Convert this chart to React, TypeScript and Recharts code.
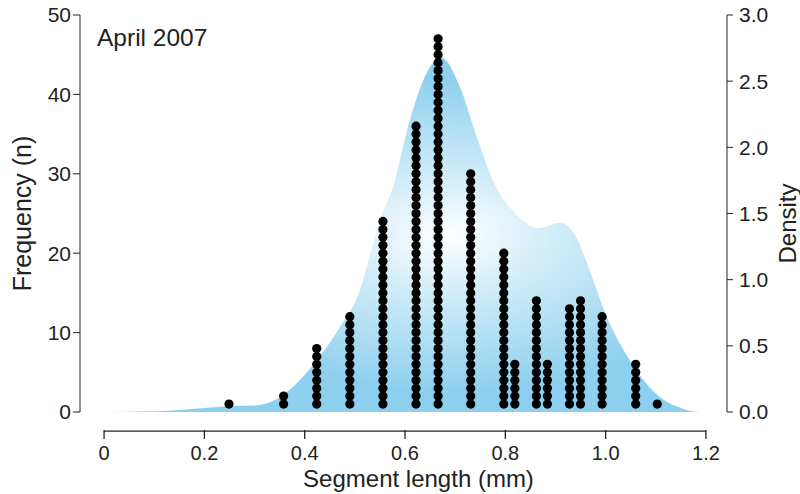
import React from 'react';
import { ComposedChart, Area, Scatter, XAxis, YAxis, ReferenceLine, Label } from 'recharts';

// segment length classes (mm) and how many segments fell in each
const lengths = [0.249, 0.358, 0.424, 0.49, 0.556, 0.622, 0.666, 0.731, 0.797, 0.819, 0.862, 0.884, 0.928, 0.95, 0.993, 1.06, 1.103];
const counts = [1, 2, 8, 12, 24, 36, 47, 30, 20, 6, 14, 6, 13, 14, 12, 6, 1];

// kernel density estimate
const densityX = [-0.048, 0, 0.1, 0.15, 0.2, 0.25, 0.3, 0.35, 0.39, 0.43, 0.47, 0.51, 0.53, 0.55, 0.576, 0.61, 0.643, 0.672, 0.709, 0.743, 0.775, 0.82, 0.865, 0.91, 0.94, 0.97, 1.0, 1.05, 1.1, 1.15, 1.19, 1.242];
const densityY = [0, 0, 0.005, 0.015, 0.03, 0.045, 0.05, 0.11, 0.24, 0.42, 0.64, 0.92, 1.18, 1.45, 1.7, 2.21, 2.56, 2.68, 2.46, 2.08, 1.75, 1.5, 1.39, 1.43, 1.33, 1.05, 0.74, 0.38, 0.14, 0.03, 0, 0];

const xTicks = [0, 0.2, 0.4, 0.6, 0.8, 1.0, 1.2];
const freqTicks = [0, 10, 20, 30, 40, 50];
const densTicks = [0, 0.5, 1.0, 1.5, 2.0, 2.5, 3.0];

const densityData = densityX.map((x, i) => ({ x, d: densityY[i] }));
// one point per observed segment, stacked 1..n in its column
const dotData = lengths.flatMap((x, i) => Array.from({ length: counts[i] }, (_, k) => ({ x, n: k + 1 })));

const FONT = '"Liberation Sans", Arial, sans-serif';
const INK = '#222';

const XTick = (props: any) => {
  const { x, y, payload } = props;
  const label = payload.value === 0 ? '0' : payload.value.toFixed(1);
  return (
    <g>
      <line x1={x} x2={x} y1={y + 18} y2={y + 27} stroke={INK} strokeWidth={1.3} />
      <text x={x} y={y + 48} textAnchor="middle" fontSize={20} fill={INK} fontFamily={FONT}>{label}</text>
    </g>
  );
};

const DensityTitle = (props: any) => {
  const { x, y, width, height } = props.viewBox;
  const cx = x + width - 4;
  const cy = y + height / 2 + 10;
  return (
    <text x={cx} y={cy} transform={`rotate(-90, ${cx}, ${cy})`} textAnchor="middle" fontSize={24} fill={INK} fontFamily={FONT}>
      Density
    </text>
  );
};

const Dot = (props: any) => <circle cx={props.cx} cy={props.cy} r={4.6} fill="#000" />;

export default function App() {
  return (
    <div style={{ position: 'absolute', left: 0, top: 0, width: 800, height: 494, background: '#fff', fontFamily: FONT }}>
      <ComposedChart width={800} height={494} margin={{ top: 15, right: 0, bottom: 0, left: 0 }}>
        <defs>
          <radialGradient id="densFill" cx="0.57" cy="0.5" r="0.45" fx="0.57" fy="0.5">
            <stop offset="0%" stopColor="#ffffff" />
            <stop offset="35%" stopColor="#d3edf8" />
            <stop offset="100%" stopColor="#8ccfee" />
          </radialGradient>
        </defs>
        <XAxis
          dataKey="x"
          type="number"
          domain={[-0.048, 1.242]}
          allowDataOverflow
          ticks={xTicks}
          axisLine={false}
          tickLine={false}
          tickSize={0}
          tickMargin={0}
          height={82}
          tick={<XTick />}
          label={{ value: 'Segment length (mm)', position: 'insideBottom', offset: 7, dx: 15, fontSize: 24, fill: INK, fontFamily: FONT }}
        />
        <YAxis
          yAxisId="freq"
          orientation="left"
          domain={[0, 50]}
          ticks={freqTicks}
          width={80}
          stroke={INK}
          tickSize={7}
          tick={{ fontSize: 21, fill: INK, fontFamily: FONT }}
          label={{ value: 'Frequency (n)', angle: -90, position: 'insideLeft', offset: 22, style: { textAnchor: 'middle' }, fontSize: 25, fill: INK, fontFamily: FONT }}
        />
        <YAxis
          yAxisId="dens"
          orientation="right"
          domain={[0, 3]}
          ticks={densTicks}
          width={73}
          stroke={INK}
          tickSize={6}
          tickMargin={6}
          tickFormatter={(v: number) => v.toFixed(1)}
          tick={{ fontSize: 21, fill: INK, fontFamily: FONT }}
        >
          <Label content={<DensityTitle />} />
        </YAxis>
        <Area
          yAxisId="dens"
          data={densityData}
          dataKey="d"
          type="monotone"
          stroke="none"
          fill="url(#densFill)"
          fillOpacity={1}
          isAnimationActive={false}
        />
        <Scatter yAxisId="freq" data={dotData} dataKey="n" shape={<Dot />} isAnimationActive={false} />
        <ReferenceLine
          yAxisId="freq"
          segment={[{ x: 0, y: -2.4 }, { x: 1.2, y: -2.4 }]}
          ifOverflow="visible"
          stroke={INK}
          strokeWidth={1.3}
        />
      </ComposedChart>
      <div style={{ position: 'absolute', left: 97, top: 24, fontSize: 24.5, color: INK }}>April 2007</div>
    </div>
  );
}
